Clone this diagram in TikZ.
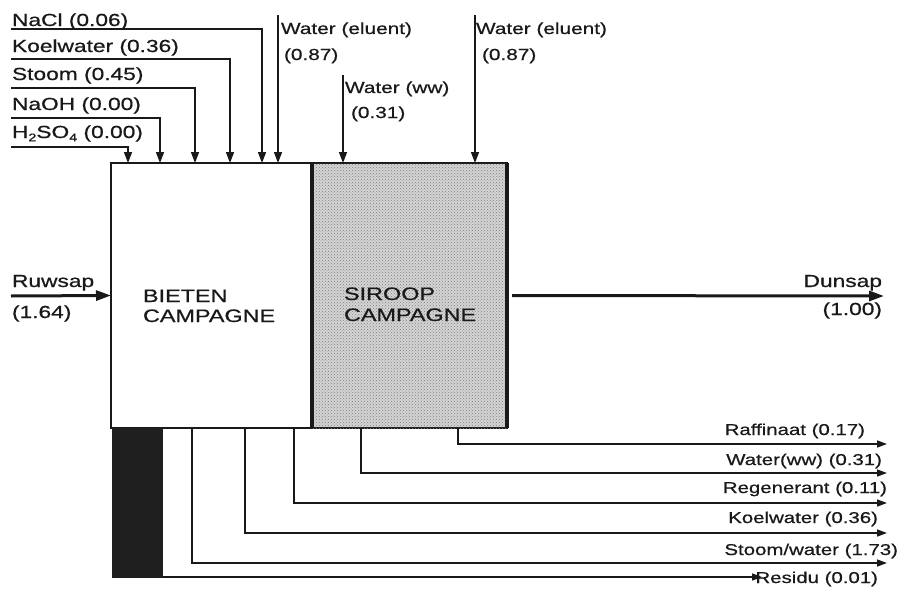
\documentclass[tikz,border=0pt]{standalone}
\usepackage{fontspec}
\setmainfont{Liberation Sans}
\newfontfamily\arl[FakeStretch=1.3,FakeBold=0.6]{Liberation Sans}
\usetikzlibrary{arrows.meta,patterns}
\newcommand\fsz[1]{\fontsize{#1}{#1}\selectfont}
\newcommand\sbs[1]{\raisebox{-0.35ex}{\fsz{11}#1}}
\begin{document}
\begin{tikzpicture}[x=1pt,y=-1pt,
  lbl/.style={inner sep=0pt, outer sep=0pt, text=black!90, font=\arl\fsz{17.5}},
  lbltop/.style={inner sep=0pt, outer sep=0pt, text=black!90, font=\arl\fsz{16}},
  lblout/.style={inner sep=0pt, outer sep=0pt, text=black!90, font=\arl\fsz{15.7}},
  lblbox/.style={inner sep=0pt, outer sep=0pt, text=black!90, font=\arl\fsz{18}},
  flow/.style={draw=black!90, line width=1.5pt, -{Triangle[length=11pt,width=8pt]}},
  outflow/.style={draw=black!90, line width=1.5pt, -{Triangle[length=10pt,width=7pt]}},
  bigflow/.style={draw=black!90, line width=3pt, -{Triangle[length=15pt,width=10pt]}},
  boxst/.style={draw=black!90, line width=1.5pt, inner sep=0pt, outer sep=0pt, anchor=north west, minimum height=265pt}
]
\useasboundingbox (0,0) rectangle (900,589);
\fill[white] (0,0) rectangle (900,589);

% process boxes
\node[boxst, minimum width=201pt] (bieten) at (111,163) {};
\node[boxst, minimum width=195pt, fill=black!17,
      postaction={pattern=crosshatch dots, pattern color=black!50}] (siroop) at (312,163) {};
\draw[black!90, line width=3.5pt] (siroop.north west) -- (siroop.south west);
\draw[black!90, line width=4pt] (siroop.north east) -- (siroop.south east);
\node[fill=black!88, inner sep=0pt, outer sep=0pt, anchor=north west,
      minimum width=51pt, minimum height=150pt] (residu) at (112,428) {};

\node[lblbox, anchor=base west] (b1) at (143,302) {BIETEN};
\node[lblbox, anchor=base west] (b2) at (143,322) {CAMPAGNE};
\node[lblbox, anchor=base west] (s1) at (344,300) {SIROOP};
\node[lblbox, anchor=base west] (s2) at (344,321) {CAMPAGNE};

% left inputs
\node[lbl, anchor=base west] (lNaCl) at (12,26) {NaCl (0.06)};
\node[lbl, anchor=base west] (lKoel) at (12,52) {Koelwater (0.36)};
\node[lbl, anchor=base west] (lStoom) at (12,80) {Stoom (0.45)};
\node[lbl, anchor=base west] (lNaOH) at (12,110) {NaOH (0.00)};
\node[lbl, anchor=base west] (lH2SO4) at (12,138) {H\sbs{2}SO\sbs{4} (0.00)};
\coordinate (sNaCl) at (11,29);
\coordinate (sKoel) at (11,59);
\coordinate (sStoom) at (11,88);
\coordinate (sNaOH) at (11,118);
\coordinate (sH2SO4) at (11,147);
\draw[flow] (sNaCl) -| ([xshift=151pt]bieten.north west);
\draw[flow] (sKoel) -| ([xshift=119pt]bieten.north west);
\draw[flow] (sStoom) -| ([xshift=84pt]bieten.north west);
\draw[flow] (sNaOH) -| ([xshift=49pt]bieten.north west);
\draw[flow] (sH2SO4) -| ([xshift=17pt]bieten.north west);

% top water inputs
\coordinate (sEl1) at (278,15);
\coordinate (sWw) at (343,75);
\coordinate (sEl2) at (475,15);
\draw[flow] (sEl1) -- (sEl1 |- bieten.north);
\draw[flow] (sWw) -- (sWw |- siroop.north);
\draw[flow] (sEl2) -- (sEl2 |- siroop.north);
\node[lbltop, anchor=base west] (lEl1a) at (281,34) {Water (eluent)};
\node[lbltop, anchor=base west] (lEl1b) at (284,60) {(0.87)};
\node[lbltop, anchor=base west] (lWwa) at (345,93) {Water (ww)};
\node[lbltop, anchor=base west] (lWwb) at (351,118) {(0.31)};
\node[lbltop, anchor=base west] (lEl2a) at (476,34) {Water (eluent)};
\node[lbltop, anchor=base west] (lEl2b) at (482,60) {(0.87)};

% main flow
\coordinate (sRuw) at (11,296);
\coordinate (eDun) at (884,296);
\draw[bigflow] (sRuw) -- (bieten.west);
\draw[bigflow] ([xshift=5pt]siroop.east) -- (eDun);
\node[lbl, anchor=base west] (lRuw1) at (12,287) {Ruwsap};
\node[lbl, anchor=base west] (lRuw2) at (12,318) {(1.64)};
\node[lbl, anchor=base east] (lDun1) at (882,287) {Dunsap};
\node[lbl, anchor=base east] (lDun2) at (882,315) {(1.00)};

% outputs
\coordinate (eRaff) at (887,444);
\coordinate (eWw) at (887,473);
\coordinate (eReg) at (887,503);
\coordinate (eKoel) at (887,533);
\coordinate (eStoom) at (887,563);
\coordinate (eRes) at (762,577);
\draw[outflow] ([xshift=146pt]siroop.south west) |- (eRaff);
\draw[outflow] ([xshift=49pt]siroop.south west) |- (eWw);
\draw[outflow] ([xshift=183pt]bieten.south west) |- (eReg);
\draw[outflow] ([xshift=134pt]bieten.south west) |- (eKoel);
\draw[outflow] ([xshift=81pt]bieten.south west) |- (eStoom);
\draw[outflow] ([yshift=1pt]residu.south east) -- (eRes);

\node[lblout, anchor=base east] (oRaff) at (865,435) {Raffinaat (0.17)};
\node[lblout, anchor=base east] (oWw) at (882,465) {Water(ww) (0.31)};
\node[lblout, anchor=base east] (oReg) at (887,493) {Regenerant (0.11)};
\node[lblout, anchor=base east] (oKoel) at (878,523) {Koelwater (0.36)};
\node[lblout, anchor=base east] (oStoom) at (898,555) {Stoom/water (1.73)};
\node[lblout, anchor=base east] (oRes) at (878,583) {Residu (0.01)};
\end{tikzpicture}
\end{document}
